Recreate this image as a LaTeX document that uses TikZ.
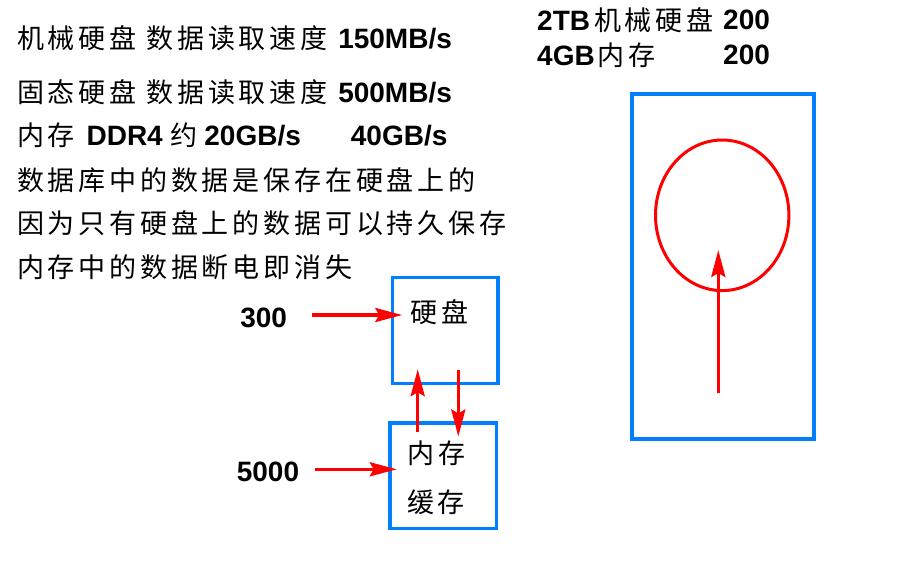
\documentclass[tikz,border=0pt]{standalone}
\usepackage{fontspec}
\setmainfont{Liberation Sans}
\newfontfamily\cjk[LetterSpace=14,Scale=0.965]{Noto Sans CJK SC}
\usetikzlibrary{arrows.meta,positioning,shapes.geometric}
\definecolor{boxblue}{RGB}{0,128,255}
\newcommand\zh[1]{{\cjk #1}}

\begin{document}
\begin{tikzpicture}[x=1pt,y=-1pt,>={Stealth[length=27pt,width=14pt,inset=4pt]},
		every node/.style={inner sep=0pt,font=\fontsize{28}{32}\selectfont},
		txt/.style={anchor=west},
		num/.style={font=\fontsize{28}{32}\selectfont\bfseries},
		box/.style={draw=boxblue,line width=3.6pt},
		link/.style={->,draw=red,line width=3.4pt}]
		\useasboundingbox (0,0) rectangle (917,565);
		% notes on the left
		\node[txt] (l1) at (17,38) {\zh{机械硬盘 数据读取速度}\hspace{3pt} \textbf{150MB/s}};
		\node[txt] (l2) at (17,92) {\zh{固态硬盘 数据读取速度}\hspace{3pt} \textbf{500MB/s}};
		\node[txt] (l3) at (17,135) {\zh{内存} \textbf{DDR4} \zh{约}\hspace{3pt}\textbf{20GB/s}\hspace{50pt}\textbf{40GB/s}};
		\node[txt] (l4) at (17,180) {\zh{数据库中的数据是保存在硬盘上的}};
		\node[txt] (l5) at (17,223) {\zh{因为只有硬盘上的数据可以持久保存}};
		\node[txt] (l6) at (17,267) {\zh{内存中的数据断电即消失}};
		% top right
		\node[txt] (t1) at (537,20) {\textbf{2TB}\hspace{4pt}\zh{机械硬盘}};
		\node[txt] (t2) at (537,55) {\textbf{4GB}\hspace{3pt}\zh{内存}};
		\node[txt,num] (c1) at (723,20) {200};
		\node[txt,num] (c2) at (723,55) {200};
		% disk and memory
		\node[box,minimum width=105.5pt,minimum height=106pt] (disk) at (445.2,330.4) {};
		\node[box,minimum width=106.7pt,minimum height=105.6pt] (mem) at (443.3,475.5) {};
		\node (disklbl) at (439.5,312) {\zh{硬盘}};
		\node (memlbl) at (436.5,453) {\zh{内存}};
		\node (cachelbl) at (436,502) {\zh{缓存}};
		\node[num] (n300) at (263.7,318) {300};
		\node[num] (n5000) at (268,472) {5000};
		\draw[link,shorten <=25pt] ([yshift=3pt]n300.east) -- ++(115,0);
		\draw[link,shorten <=15.7pt] ([yshift=2.7pt]n5000.east) -- ++(97.4,0);
		\draw[link] ([shift={(-25.6,10.6)}]mem.north) -- ([shift={(-27.5,-16)}]disk.south);
		\draw[link] ([shift={(13.1,-15)}]disk.south) -- ([shift={(15,15.6)}]mem.north);
		% right part
		\node[box,line width=3.2pt,minimum width=182pt,minimum height=345pt] (ram) at (723,266.5) {};
		\node[ellipse,draw=red,line width=3pt,minimum width=133.4pt,minimum height=150.6pt] (loop) at (722.2,215.3) {};
		\draw[link] ([shift={(-4.7,-47.3)}]ram.south) -- ([shift={(-3.9,34.7)}]loop.center);
	\end{tikzpicture}
\end{document}
